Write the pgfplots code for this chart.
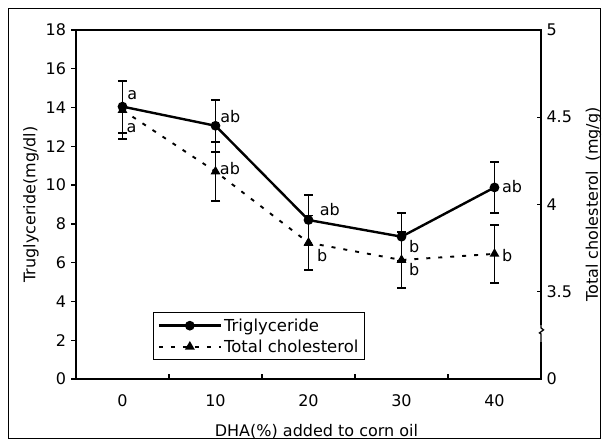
\documentclass[border=0pt]{standalone}
\usepackage{pgfplots}
\pgfplotsset{compat=1.18}
\usepackage{fontspec}
\setmainfont{DejaVu Sans}
\begin{document}
\begin{tikzpicture}[font=\fontsize{16bp}{19bp}\selectfont]
\useasboundingbox (-76bp,-68bp) rectangle (528bp,379bp);
\draw[line width=0.9bp] (-68bp,-59bp) rectangle (524bp,371bp);
\pgfplotsset{
  common/.style={
    at={(0,0)}, anchor=south west,
    scale only axis, width=465bp, height=349bp,
    xmin=-5, xmax=45,
    /pgf/number format/assume math mode=true,
    axis line style={line width=1.4bp},
    tick style={line width=1.3bp, black},
    major tick length=4.5bp,
    ticklabel style={font=\fontsize{16bp}{19bp}\selectfont},
    label style={font=\fontsize{16bp}{19bp}\selectfont},
  },
  errs/.style={error bars/.cd, y dir=both, y explicit,
    error bar style={line width=1.8bp, solid},
    error mark options={rotate=90, mark size=4.5bp, line width=1.8bp, solid}},
}
% left axis: triglyceride
\begin{axis}[common,
  ymin=0, ymax=18,
  xtick=\empty,
  extra x ticks={0,10,20,30,40},
  extra x tick style={major tick length=0pt},
  xticklabel style={yshift=-12bp},
  ytick={0,2,...,18}, ytick pos=left, tick align=outside,
  yticklabel style={xshift=-2bp},
  xlabel={DHA(\%) added to corn oil},
  xlabel style={yshift=-6bp, xshift=8bp},
  ylabel={Truglyceride(mg/dl)},
  ylabel style={yshift=0bp},
]
\addplot[black, line width=2.4bp, mark=*, mark size=3.6bp, errs] coordinates {
  (0,14.05) +- (0,1.35)
  (10,13.06) +- (0,1.34)
  (20,8.2) +- (0,1.29)
  (30,7.34) +- (0,1.24)
  (40,9.88) +- (0,1.33)
};
\node[anchor=west, inner sep=0pt] at (axis cs:0.5,14.65) {a};
\node[anchor=west, inner sep=0pt] at (axis cs:10.5,13.56) {ab};
\node[anchor=west, inner sep=0pt] at (axis cs:21.2,8.75) {ab};
\node[anchor=west, inner sep=0pt] at (axis cs:30.8,6.82) {b};
\node[anchor=west, inner sep=0pt] at (axis cs:40.8,9.92) {ab};
\end{axis}
% right axis: total cholesterol
\begin{axis}[common,
  clip=false,
  ymin=3, ymax=5,
  axis x line*=bottom, axis y line*=right,
  xtick={5,15,25,35}, xticklabels={},
  ytick={3,3.5,4,4.5,5}, yticklabels={0,3.5,4,4.5,5},
  tick align=inside,
  yticklabel style={xshift=2bp},
  ylabel={Total cholesterol\ \ (mg/g)},
  ylabel style={yshift=-7bp},
  legend style={at={(0.166,0.054)}, anchor=south west, draw=black,
    line width=0.9bp, font=\fontsize{16.5bp}{19bp}\selectfont,
    cells={anchor=west}, inner xsep=4bp, inner ysep=4bp, row sep=3bp},
  legend image code/.code={\draw[mark repeat=2, mark phase=2, #1]
    plot coordinates {(0bp,0bp) (31bp,0bp) (62bp,0bp)};},
]
\addlegendimage{black, line width=2.4bp, mark=*, mark size=3.6bp}
\addlegendentry{Triglyceride}
\addplot[black, line width=1.9bp, dash pattern=on 4bp off 8bp, mark=triangle*,
  mark size=3.8bp, mark options={solid}, errs] coordinates {
  (0,4.541) +- (0,0.167)
  (10,4.189) +- (0,0.167)
  (20,3.781) +- (0,0.156)
  (30,3.682) +- (0,0.161)
  (40,3.717) +- (0,0.167)
};
\addlegendentry{Total cholesterol}
\node[anchor=west, inner sep=0pt] at (axis cs:0.43,4.437) {a};
\node[anchor=west, inner sep=0pt] at (axis cs:10.46,4.207) {ab};
\node[anchor=west, inner sep=0pt] at (axis cs:20.9,3.71) {b};
\node[anchor=west, inner sep=0pt] at (axis cs:30.8,3.625) {b};
\node[anchor=west, inner sep=0pt] at (axis cs:40.8,3.705) {b};
% axis break on the right axis
\fill[white] ([xshift=-3bp]axis cs:45,3.21) rectangle ([xshift=3bp]axis cs:45,3.31);
\draw[line width=1.3bp] (axis cs:45,3.31) -- ++(0bp,-3bp) -- ++(2.5bp,-2bp)
  -- ++(-4bp,-3bp) -- ++(1.5bp,-1bp) -- (axis cs:45,3.21);
\end{axis}
\end{tikzpicture}
\end{document}
